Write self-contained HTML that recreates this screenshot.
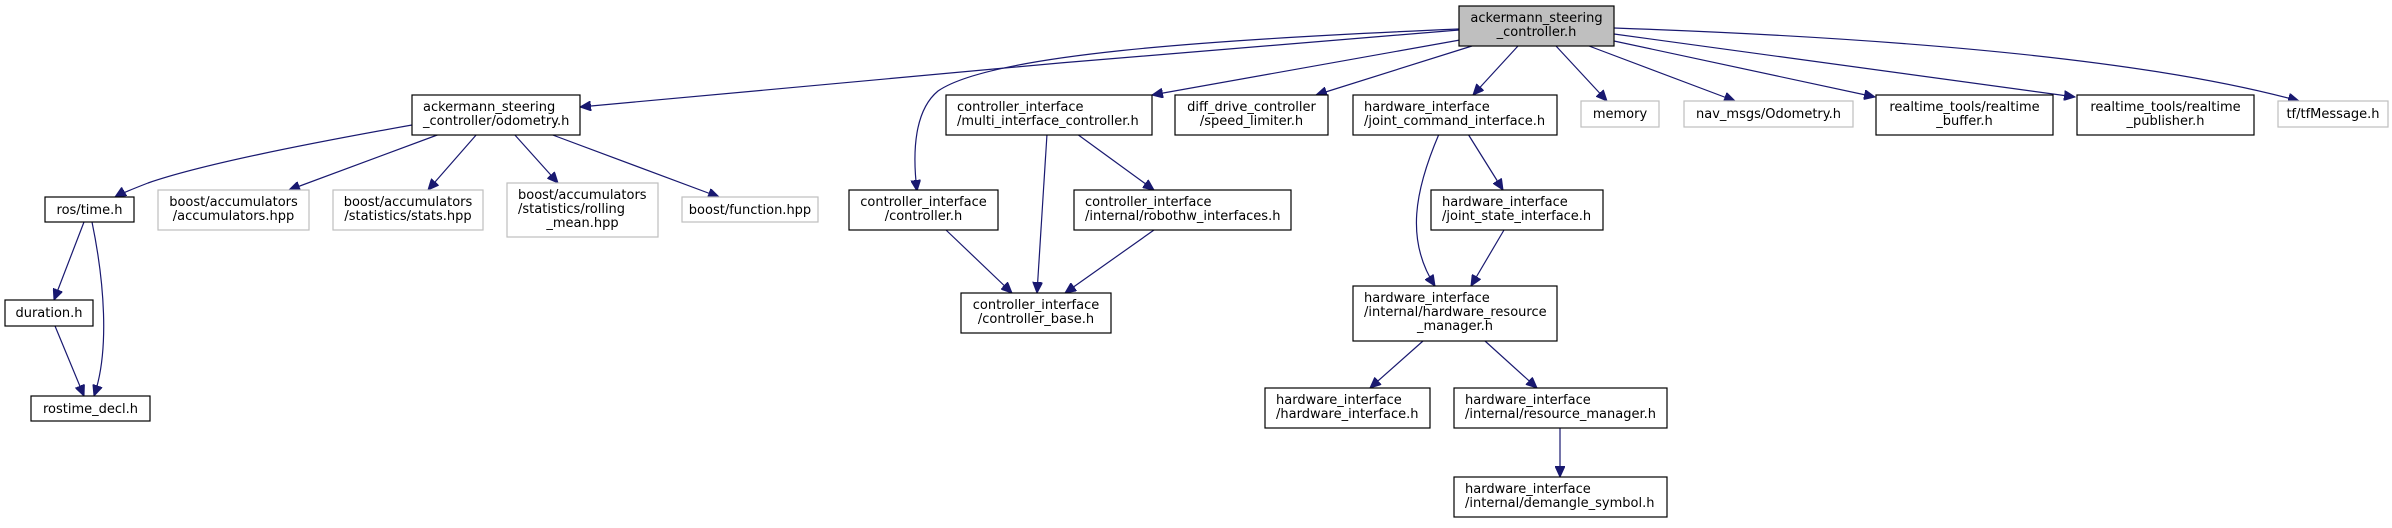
<!DOCTYPE html>
<html><head><meta charset="utf-8"><style>
html,body{margin:0;padding:0;background:#fff;}
svg{display:block;}
text{font-family:"DejaVu Sans","Liberation Sans",sans-serif;font-size:13px;fill:#000;}
.b{fill:#fff;stroke:#000;stroke-width:1.2;}
.g{fill:#fff;stroke:#bfbfbf;stroke-width:1.2;}
.e{fill:none;stroke:#191970;stroke-width:1.2;}
</style></head><body>
<svg width="2392" height="528" viewBox="0 0 2392 528" xmlns="http://www.w3.org/2000/svg">
<defs><marker id="a" markerUnits="userSpaceOnUse" markerWidth="12" markerHeight="10" refX="11" refY="5" orient="auto"><path d="M0,0 L11,5 L0,10 z" fill="#191970" stroke="#191970"/></marker></defs>
<g marker-end="url(#a)">
<path class="e" d="M1459,30 C1200,50 800,85 580,107"/>
<path class="e" d="M1459,29 C1200,40 990,55 938,91 C915,110 912,150 917,191"/>
<path class="e" d="M1460,40 L1152,95"/>
<path class="e" d="M1472,46 L1316,95"/>
<path class="e" d="M1518,46 L1473,95"/>
<path class="e" d="M1556,46 L1607,101"/>
<path class="e" d="M1589,46 L1735,101"/>
<path class="e" d="M1614,41 L1875,97"/>
<path class="e" d="M1614,34 L2075,97"/>
<path class="e" d="M1614,28 C1900,38 2150,60 2299,101"/>
<path class="e" d="M412,125 C300,145 200,165 148,183 C130,190 120,194 115,197"/>
<path class="e" d="M440,134 L289,190"/>
<path class="e" d="M477,134 L428,190"/>
<path class="e" d="M514,134 L558,183"/>
<path class="e" d="M550,134 L719,197"/>
<path class="e" d="M84,222 L54,300"/>
<path class="e" d="M92,222 C104,280 110,350 94,396"/>
<path class="e" d="M55,326 L84,396"/>
<path class="e" d="M1047,134 L1037,293"/>
<path class="e" d="M1077,134 L1154,190"/>
<path class="e" d="M946,230 L1012,293"/>
<path class="e" d="M1154,230 L1065,293"/>
<path class="e" d="M1439,134 C1415,190 1405,240 1435,286"/>
<path class="e" d="M1468,134 L1503,190"/>
<path class="e" d="M1504,230 L1471,286"/>
<path class="e" d="M1423,341 L1370,388"/>
<path class="e" d="M1485,341 L1537,388"/>
<path class="e" d="M1560,428 L1560,477"/>
</g>
<rect x="1459" y="6" width="155" height="40" fill="#bfbfbf" stroke="#000" stroke-width="1.2"/>
<text x="1536.5" y="22" text-anchor="middle">ackermann_steering</text><text x="1536.5" y="36" text-anchor="middle">_controller.h</text>

<rect class="b" x="412" y="95" width="168" height="40"/>
<text x="423" y="111">ackermann_steering</text><text x="423" y="125">_controller/odometry.h</text>

<rect class="b" x="45" y="197" width="89" height="25"/><text x="89.5" y="214" text-anchor="middle">ros/time.h</text>
<rect class="g" x="158" y="190" width="151" height="40"/><text x="233.5" y="206" text-anchor="middle">boost/accumulators</text><text x="233.5" y="220" text-anchor="middle">/accumulators.hpp</text>
<rect class="g" x="333" y="190" width="150" height="40"/><text x="408" y="206" text-anchor="middle">boost/accumulators</text><text x="408" y="220" text-anchor="middle">/statistics/stats.hpp</text>
<rect class="g" x="507" y="183" width="151" height="54"/><text x="518" y="199">boost/accumulators</text><text x="518" y="213">/statistics/rolling</text><text x="582.5" y="227" text-anchor="middle">_mean.hpp</text>
<rect class="g" x="682" y="197" width="136" height="25"/><text x="750" y="214" text-anchor="middle">boost/function.hpp</text>
<rect class="b" x="5" y="300" width="88" height="26"/><text x="49" y="317" text-anchor="middle">duration.h</text>
<rect class="b" x="31" y="396" width="119" height="25"/><text x="90.5" y="413" text-anchor="middle">rostime_decl.h</text>

<rect class="b" x="849" y="190" width="149" height="40"/><text x="923.5" y="206" text-anchor="middle">controller_interface</text><text x="923.5" y="220" text-anchor="middle">/controller.h</text>
<rect class="b" x="946" y="95" width="206" height="40"/><text x="957" y="111">controller_interface</text><text x="957" y="125">/multi_interface_controller.h</text>
<rect class="b" x="1175" y="95" width="153" height="40"/><text x="1251.5" y="111" text-anchor="middle">diff_drive_controller</text><text x="1251.5" y="125" text-anchor="middle">/speed_limiter.h</text>
<rect class="b" x="1353" y="95" width="204" height="40"/><text x="1364" y="111">hardware_interface</text><text x="1364" y="125">/joint_command_interface.h</text>
<rect class="g" x="1581" y="101" width="78" height="26"/><text x="1620" y="118" text-anchor="middle">memory</text>
<rect class="g" x="1684" y="101" width="169" height="26"/><text x="1768.5" y="118" text-anchor="middle">nav_msgs/Odometry.h</text>
<rect class="b" x="1876" y="95" width="177" height="40"/><text x="1964.5" y="111" text-anchor="middle">realtime_tools/realtime</text><text x="1964.5" y="125" text-anchor="middle">_buffer.h</text>
<rect class="b" x="2077" y="95" width="177" height="40"/><text x="2165.5" y="111" text-anchor="middle">realtime_tools/realtime</text><text x="2165.5" y="125" text-anchor="middle">_publisher.h</text>
<rect class="g" x="2278" y="101" width="110" height="26"/><text x="2333" y="118" text-anchor="middle">tf/tfMessage.h</text>

<rect class="b" x="1074" y="190" width="217" height="40"/><text x="1085" y="206">controller_interface</text><text x="1085" y="220">/internal/robothw_interfaces.h</text>
<rect class="b" x="1431" y="190" width="172" height="40"/><text x="1442" y="206">hardware_interface</text><text x="1442" y="220">/joint_state_interface.h</text>
<rect class="b" x="961" y="293" width="150" height="40"/><text x="1036" y="309" text-anchor="middle">controller_interface</text><text x="1036" y="323" text-anchor="middle">/controller_base.h</text>
<rect class="b" x="1353" y="286" width="204" height="55"/><text x="1364" y="302">hardware_interface</text><text x="1364" y="316">/internal/hardware_resource</text><text x="1455" y="330" text-anchor="middle">_manager.h</text>
<rect class="b" x="1265" y="388" width="165" height="40"/><text x="1276" y="404">hardware_interface</text><text x="1276" y="418">/hardware_interface.h</text>
<rect class="b" x="1454" y="388" width="213" height="40"/><text x="1465" y="404">hardware_interface</text><text x="1465" y="418">/internal/resource_manager.h</text>
<rect class="b" x="1454" y="477" width="213" height="40"/><text x="1465" y="493">hardware_interface</text><text x="1465" y="507">/internal/demangle_symbol.h</text>
</svg>
</body></html>
